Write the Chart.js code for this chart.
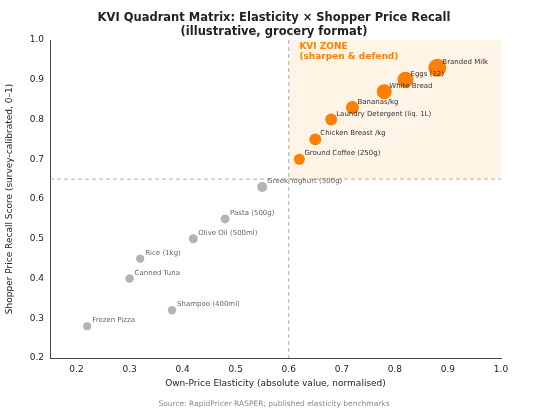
<!DOCTYPE html>
<html><head><meta charset="utf-8">
<script src="https://cdn.jsdelivr.net/npm/chart.js@4"></script>
<style>html,body{margin:0;padding:0;background:#fff}#w{width:548px;height:413px}</style>
</head><body><div id="w"><canvas id="c"></canvas></div>
<script>
const kviNames=["Branded Milk","Eggs (12)","White Bread","Bananas/kg","Laundry Detergent (liq. 1L)","Chicken Breast /kg","Ground Coffee (250g)"];
const kviX=[0.88,0.82,0.78,0.72,0.68,0.65,0.62];
const kviY=[0.93,0.90,0.87,0.83,0.80,0.75,0.70];
const kviR=[9,8,7.5,6.5,6,6,5.5];
const otherNames=["Greek Yoghurt (500g)","Pasta (500g)","Olive Oil (500ml)","Rice (1kg)","Canned Tuna","Shampoo (400ml)","Frozen Pizza"];
const otherX=[0.55,0.48,0.42,0.32,0.30,0.38,0.22];
const otherY=[0.63,0.55,0.50,0.45,0.40,0.32,0.28];
const otherR=[5,4.5,4.5,4.2,4.2,4.2,4];
const xThresh=0.6, yThresh=0.65;
const F="DejaVu Sans";
const mk=(xs,ys)=>xs.map((x,i)=>({x,y:ys[i]}));
const bg={id:'bg',beforeDatasetsDraw(ch){const {ctx,scales:{x,y},chartArea:a}=ch;ctx.save();
ctx.fillStyle='rgba(255,236,214,0.6)';const l=x.getPixelForValue(xThresh),t=y.getPixelForValue(1.0),b=y.getPixelForValue(yThresh);
ctx.fillRect(l,t,a.right-l,b-t);
ctx.strokeStyle='#999';ctx.setLineDash([4,3]);ctx.lineWidth=0.8;ctx.beginPath();
ctx.moveTo(l,a.top);ctx.lineTo(l,a.bottom);ctx.moveTo(a.left,b);ctx.lineTo(a.right,b);ctx.stroke();ctx.setLineDash([]);
ctx.fillStyle='#ff8000';ctx.font='bold 9px '+F;ctx.textBaseline='alphabetic';
ctx.fillText('KVI ZONE',x.getPixelForValue(0.62),y.getPixelForValue(0.978));
ctx.fillText('(sharpen & defend)',x.getPixelForValue(0.62),y.getPixelForValue(0.953));
ctx.restore();},
afterDatasetsDraw(ch){const {ctx,scales:{x,y}}=ch;ctx.save();ctx.font='7px '+F;
const lab=(n,xs,ys,c)=>n.forEach((s,i)=>{ctx.fillStyle=c;ctx.fillText(s,x.getPixelForValue(xs[i])+5,y.getPixelForValue(ys[i])-4);});
lab(kviNames,kviX,kviY,'#333');lab(otherNames,otherX,otherY,'#666');
ctx.textAlign='center';ctx.fillStyle='#222';ctx.font='bold 11.5px '+F;
ctx.fillText('KVI Quadrant Matrix: Elasticity × Shopper Price Recall',274,21);
ctx.fillText('(illustrative, grocery format)',274,35);
ctx.fillStyle='#888';ctx.font='7.5px '+F;ctx.fillText('Source: RapidPricer RASPER; published elasticity benchmarks',274,406);
ctx.restore();}};
new Chart(document.getElementById('c'),{type:'scatter',
data:{datasets:[
{data:mk(otherX,otherY),pointRadius:otherR,backgroundColor:'#b3b3b3',borderWidth:0},
{data:mk(kviX,kviY),pointRadius:kviR,backgroundColor:'#ff8000',borderWidth:0}]},
options:{responsive:true,maintainAspectRatio:false,animation:false,
layout:{padding:{left:0,right:47,top:40,bottom:20}},
plugins:{legend:{display:false},tooltip:{enabled:false}},
scales:{
x:{min:0.15,max:1.0,afterBuildTicks(s){s.ticks=[0.2,0.3,0.4,0.5,0.6,0.7,0.8,0.9,1.0].map(v=>({value:v}));},
afterFit(s){s.height=35;},grid:{display:false,drawTicks:true,tickLength:4},border:{color:'#444'},
ticks:{color:'#222',font:{family:F,size:9},padding:2,callback:v=>v.toFixed(1)},
title:{display:true,text:'Own-Price Elasticity (absolute value, normalised)',color:'#222',font:{family:F,size:9},padding:{top:1}}},
y:{min:0.2,max:1.0,afterBuildTicks(s){s.ticks=[0.2,0.3,0.4,0.5,0.6,0.7,0.8,0.9,1.0].map(v=>({value:v}));},
afterFit(s){s.width=50;},grid:{display:false,tickLength:4},border:{color:'#444'},
ticks:{color:'#222',font:{family:F,size:9},padding:2,callback:v=>v.toFixed(1)},
title:{display:true,text:'Shopper Price Recall Score (survey-calibrated, 0–1)',color:'#222',font:{family:F,size:9},padding:{bottom:1}}}}},
plugins:[bg]});
</script></body></html>
